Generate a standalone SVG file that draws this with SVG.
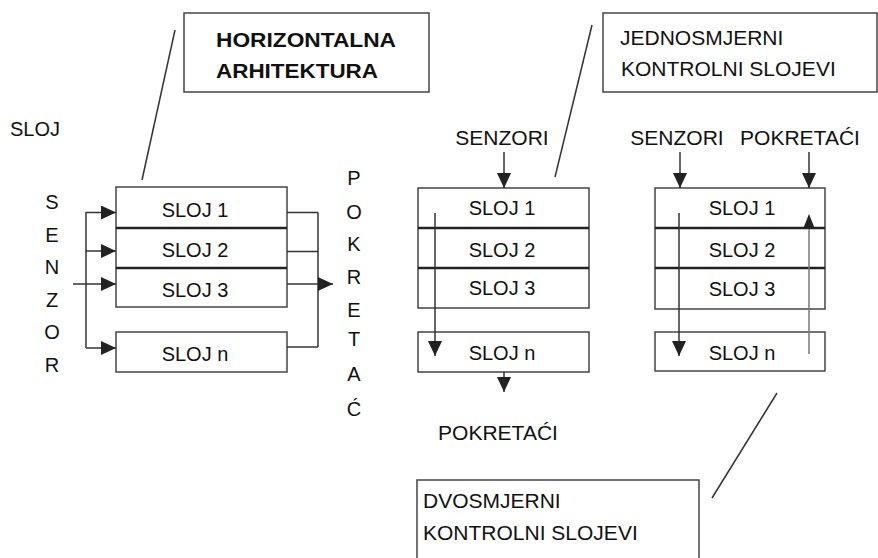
<svg xmlns="http://www.w3.org/2000/svg" width="878" height="558" viewBox="0 0 878 558">
<style>
text{font-family:"Liberation Sans",Arial,sans-serif;font-size:20px;fill:#111}
.b{font-weight:bold;font-size:21px}
.c{font-size:21px}
.m{text-anchor:middle}
.box{fill:#fff;stroke:#444;stroke-width:1.5}
.sep{stroke:#222;stroke-width:2.5}
.ln{fill:none;stroke:#333;stroke-width:1.5}
.lg{fill:none;stroke:#777;stroke-width:1.5}
.ar{fill:none;stroke:#333;stroke-width:1.5;marker-end:url(#ah)}
</style>
<defs>
<marker id="ah" markerUnits="userSpaceOnUse" markerWidth="16" markerHeight="14" refX="15" refY="7" orient="auto">
<path d="M0,0 L15,7 L0,14 Z" fill="#222"/>
</marker>
</defs>
<rect width="878" height="558" fill="#fff"/>

<g id="label-sloj"><text x="10" y="136">SLOJ</text></g>

<g id="senzor-vertical">
<text class="m" x="52" y="209">S</text>
<text class="m" x="52" y="242">E</text>
<text class="m" x="52" y="274">N</text>
<text class="m" x="52" y="307">Z</text>
<text class="m" x="52" y="339">O</text>
<text class="m" x="52" y="372">R</text>
</g>

<g id="pokretac-vertical">
<text class="m" x="354" y="185">P</text>
<text class="m" x="354" y="219">O</text>
<text class="m" x="354" y="251">K</text>
<text class="m" x="354" y="284">R</text>
<text class="m" x="354" y="317">E</text>
<text class="m" x="354" y="346">T</text>
<text class="m" x="354" y="381">A</text>
<text class="m" x="354" y="416">Ć</text>
</g>

<g id="horizontal-callout">
<rect class="box" x="184" y="13" width="245" height="79"/>
<text class="b" x="216" y="47" textLength="180" lengthAdjust="spacingAndGlyphs">HORIZONTALNA</text>
<text class="b" x="216" y="78" textLength="162" lengthAdjust="spacingAndGlyphs">ARHITEKTURA</text>
</g>

<g id="left-stack">
<rect class="box" x="116" y="187" width="171" height="120"/>
<line class="sep" x1="116" y1="228" x2="287" y2="228"/>
<line class="sep" x1="116" y1="268" x2="287" y2="268"/>
<text class="m" x="195" y="217">SLOJ 1</text>
<text class="m" x="195" y="257">SLOJ 2</text>
<text class="m" x="195" y="297">SLOJ 3</text>
</g>
<g id="left-slojn">
<rect class="box" x="116" y="332" width="171" height="40"/>
<text class="m" x="195" y="361">SLOJ n</text>
</g>

<g id="one-way-callout">
<rect class="box" x="603" y="13" width="274" height="79"/>
<text class="c" x="620" y="45">JEDNOSMJERNI</text>
<text class="c" x="621" y="76">KONTROLNI SLOJEVI</text>
</g>

<g id="mid-stack">
<rect class="box" x="418" y="188" width="171" height="120"/>
<line class="sep" x1="418" y1="228" x2="589" y2="228"/>
<line class="sep" x1="418" y1="268" x2="589" y2="268"/>
<text class="m" x="502" y="215">SLOJ 1</text>
<text class="m" x="502" y="257">SLOJ 2</text>
<text class="m" x="502" y="295">SLOJ 3</text>
</g>
<g id="mid-slojn">
<rect class="box" x="418" y="332" width="171" height="40"/>
<text class="m" x="502" y="360">SLOJ n</text>
</g>
<g id="mid-senzori"><text class="m c" x="502" y="145">SENZORI</text></g>
<g id="mid-pokretaci"><text class="m c" x="498" y="440">POKRETAĆI</text></g>

<g id="right-stack">
<rect class="box" x="655" y="188" width="170" height="121"/>
<line class="sep" x1="655" y1="228" x2="825" y2="228"/>
<line class="sep" x1="655" y1="268" x2="825" y2="268"/>
<text class="m" x="742" y="215">SLOJ 1</text>
<text class="m" x="742" y="257">SLOJ 2</text>
<text class="m" x="742" y="296">SLOJ 3</text>
</g>
<g id="right-slojn">
<rect class="box" x="655" y="332" width="170" height="39"/>
<text class="m" x="742" y="360">SLOJ n</text>
</g>
<g id="right-senzori"><text class="m c" x="677" y="145">SENZORI</text></g>
<g id="right-pokretaci"><text class="m c" x="800" y="145">POKRETAĆI</text></g>

<g id="two-way-callout">
<rect class="box" x="417" y="480" width="282" height="90"/>
<text class="c" x="423" y="508">DVOSMJERNI</text>
<text class="c" x="423" y="540">KONTROLNI SLOJEVI</text>
</g>

<g id="connectors">
<line class="ln" x1="175" y1="30" x2="142" y2="180"/>
<line class="ln" x1="592" y1="25" x2="555" y2="177"/>
<line class="ln" x1="777" y1="393" x2="712" y2="498"/>

<line class="ln" x1="86" y1="212" x2="86" y2="348"/>
<line class="ar" x1="86" y1="212.5" x2="116" y2="212.5"/>
<line class="ar" x1="86" y1="251" x2="116" y2="251"/>
<line class="ar" x1="73" y1="284" x2="116" y2="284"/>
<line class="ar" x1="86" y1="348" x2="116" y2="348"/>

<line class="ln" x1="318" y1="212.5" x2="318" y2="347"/>
<line class="ln" x1="287" y1="212.5" x2="318" y2="212.5"/>
<line class="ln" x1="287" y1="251.5" x2="318" y2="251.5"/>
<line class="ln" x1="287" y1="347" x2="318" y2="347"/>
<line class="ar" x1="287" y1="284" x2="333" y2="284"/>

<line class="ar" x1="504" y1="152" x2="504" y2="188"/>
<line class="ar" x1="435" y1="213" x2="435" y2="356"/>
<line class="ar" x1="504" y1="372" x2="504" y2="392"/>

<line class="ar" x1="680" y1="152" x2="680" y2="188"/>
<line class="ar" x1="809" y1="152" x2="809" y2="188"/>
<line class="ar" x1="679" y1="213" x2="679" y2="356"/>
<line class="lg" x1="809" y1="354" x2="809" y2="222"/>
<path d="M809,214 L815,229 L803,229 Z" fill="#222"/>
</g>
</svg>
